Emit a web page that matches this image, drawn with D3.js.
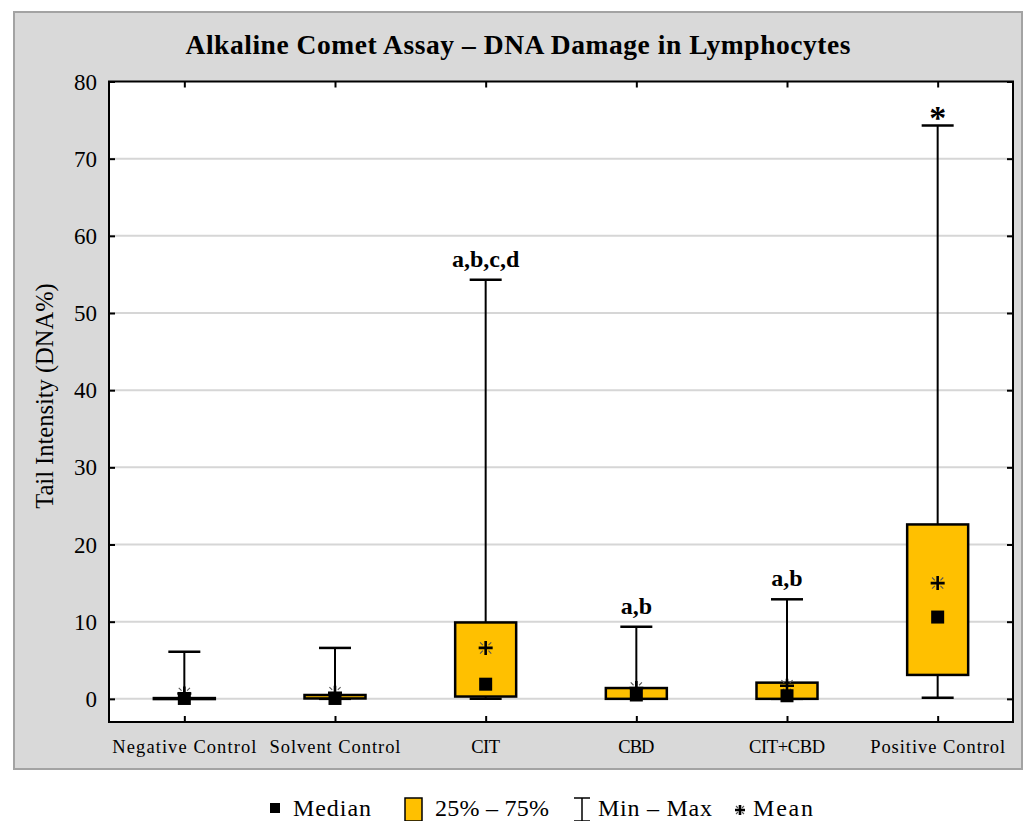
<!DOCTYPE html>
<html>
<head>
<meta charset="utf-8">
<script src="https://cdn.jsdelivr.net/npm/d3@7"></script>
<style>
  html, body { margin: 0; padding: 0; background: #fff; }
  svg { display: block; font-family: "Liberation Serif", "Times New Roman", serif; }
</style>
</head>
<body>
<svg id="chart" width="1027" height="821"></svg>
<script>
// box-plot summary per group
const categories = ["Negative Control", "Solvent Control", "CIT", "CBD", "CIT+CBD", "Positive Control"];
const minVals    = [0, 0, 0, 0, 0, 0.15];
const q1Vals     = [0, 0.05, 0.3, 0, 0, 3.1];
const medianVals = [0.05, 0.05, 1.9, 0.5, 0.4, 10.6];
const q3Vals     = [0.1, 0.5, 9.9, 1.4, 2.1, 22.6];
const maxVals    = [6.1, 6.6, 54.3, 9.35, 12.9, 74.3];
const meanVals   = [0.7, 0.8, 6.6, 1.4, 1.7, 15.0];
const letters    = ["", "", "a,b,c,d", "a,b", "a,b", "*"];
const yTicks     = [0, 10, 20, 30, 40, 50, 60, 70, 80];
const labelWidths = [144, 131, 29, 36, 76, 135];   // measured widths of the category labels

const svg = d3.select('#chart');
const plot = { left: 109, right: 1013, top: 81.5, bottom: 722 };

// grey panel
svg.append('rect').attr('x', 14).attr('y', 12).attr('width', 1008).attr('height', 757)
  .attr('fill', '#d9d9d9').attr('stroke', '#a3a3a3').attr('stroke-width', 2);

svg.append('text').attr('x', 518).attr('y', 54).attr('text-anchor', 'middle')
  .attr('font-size', 27.5).attr('font-weight', 'bold')
  .attr('textLength', 665).attr('lengthAdjust', 'spacing')
  .text('Alkaline Comet Assay \u2013 DNA Damage in Lymphocytes');

const x = d3.scalePoint().domain(categories).range([plot.left, plot.right]).padding(0.5);
const y = d3.scaleLinear().domain([-3, 80]).range([plot.bottom, plot.top]);

svg.append('rect').attr('x', plot.left).attr('y', plot.top)
  .attr('width', plot.right - plot.left).attr('height', plot.bottom - plot.top).attr('fill', '#fff');

// gridlines
svg.append('g').selectAll('line').data(yTicks.filter((t) => t < 80)).join('line')
  .attr('x1', plot.left).attr('x2', plot.right)
  .attr('y1', (d) => y(d)).attr('y2', (d) => y(d))
  .attr('stroke', '#d6d6d6').attr('stroke-width', 2);

// axes with inward ticks, labels drawn separately
const axL = svg.append('g').attr('transform', `translate(${plot.left},0)`)
  .call(d3.axisRight(y).tickValues(yTicks).tickSize(6).tickFormat(''));
const axR = svg.append('g').attr('transform', `translate(${plot.right},0)`)
  .call(d3.axisLeft(y).tickValues(yTicks).tickSize(6).tickFormat(''));
const axT = svg.append('g').attr('transform', `translate(0,${plot.top})`)
  .call(d3.axisBottom(x).tickSize(6).tickFormat(''));
const axB = svg.append('g').attr('transform', `translate(0,${plot.bottom})`)
  .call(d3.axisTop(x).tickSize(6).tickFormat(''));
[axL, axR, axT, axB].forEach((a) => {
  a.select('.domain').remove();
  a.selectAll('.tick line').attr('stroke', '#000').attr('stroke-width', 2);
});

svg.append('g').selectAll('text').data(yTicks).join('text')
  .attr('x', 97).attr('y', (d) => y(d) + 8).attr('text-anchor', 'end')
  .attr('font-size', 23).text((d) => d);

svg.append('g').selectAll('text').data(categories).join('text')
  .attr('x', (d) => x(d)).attr('y', 753).attr('text-anchor', 'middle')
  .attr('font-size', 18.5)
  .attr('textLength', (d, i) => labelWidths[i]).attr('lengthAdjust', 'spacing')
  .text((d) => d);

svg.append('text').attr('transform', 'translate(53,396) rotate(-90)')
  .attr('text-anchor', 'middle').attr('font-size', 24.5)
  .text('Tail Intensity (DNA%)');

// boxes
const rows = categories.map((c, i) => ({
  c, min: minVals[i], q1: q1Vals[i], med: medianVals[i], q3: q3Vals[i],
  max: maxVals[i], mean: meanVals[i], tag: letters[i],
}));
const boxW = 61, capW = 32, medS = 13;
const g = svg.append('g');

g.selectAll('line.whisker').data(rows).join('line').attr('class', 'whisker')
  .attr('x1', (d) => x(d.c)).attr('x2', (d) => x(d.c))
  .attr('y1', (d) => y(d.min)).attr('y2', (d) => y(d.max))
  .attr('stroke', '#000').attr('stroke-width', 2);

['min', 'max'].forEach((k) => {
  g.selectAll('line.cap-' + k).data(rows).join('line').attr('class', 'cap-' + k)
    .attr('x1', (d) => x(d.c) - capW / 2).attr('x2', (d) => x(d.c) + capW / 2)
    .attr('y1', (d) => y(d[k])).attr('y2', (d) => y(d[k]))
    .attr('stroke', '#000').attr('stroke-width', 2.5);
});

g.selectAll('rect.box').data(rows).join('rect').attr('class', 'box')
  .attr('x', (d) => x(d.c) - boxW / 2).attr('width', boxW)
  .attr('y', (d) => y(d.q3)).attr('height', (d) => Math.max(y(d.q1) - y(d.q3), 1))
  .attr('fill', '#ffc000').attr('stroke', '#000').attr('stroke-width', 2.5);

function meanMark(sel, s) {
  sel.append('path').attr('d', `M${-s},0H${s}M0,${-s}V${s}`)
    .attr('stroke', '#000').attr('stroke-width', 2.6).attr('fill', 'none');
  const a = s * 0.8, b = s * 0.4;
  sel.append('path')
    .attr('d', `M${-a},${-a}L${-b},${-b}M${a},${a}L${b},${b}M${a},${-a}L${b},${-b}M${-a},${a}L${-b},${b}`)
    .attr('stroke', '#555').attr('stroke-width', 1.1).attr('fill', 'none');
}
g.selectAll('g.mean').data(rows).join('g').attr('class', 'mean')
  .attr('transform', (d) => `translate(${x(d.c)},${y(d.mean)})`)
  .each(function () { meanMark(d3.select(this), 7); });

g.selectAll('rect.median').data(rows).join('rect').attr('class', 'median')
  .attr('x', (d) => x(d.c) - medS / 2).attr('y', (d) => y(d.med) - medS / 2)
  .attr('width', medS).attr('height', medS).attr('fill', '#000');

// significance letters
g.selectAll('text.tag').data(rows.filter((d) => d.tag)).join('text').attr('class', 'tag')
  .attr('x', (d) => x(d.c)).attr('text-anchor', 'middle')
  .attr('y', (d) => y(d.max) - (d.tag === '*' ? -4 : 13))
  .attr('font-weight', 'bold')
  .attr('font-size', (d) => (d.tag === '*' ? 34 : 24))
  .text((d) => d.tag);

// plot frame
svg.append('rect').attr('x', plot.left).attr('y', plot.top)
  .attr('width', plot.right - plot.left).attr('height', plot.bottom - plot.top)
  .attr('fill', 'none').attr('stroke', '#000').attr('stroke-width', 2);

// legend
const lg = svg.append('g');
const ly = 816;
lg.append('rect').attr('x', 270).attr('y', 803).attr('width', 10).attr('height', 10).attr('fill', '#000');
lg.append('rect').attr('x', 405).attr('y', 798).attr('width', 17).attr('height', 23)
  .attr('fill', '#ffc000').attr('stroke', '#000').attr('stroke-width', 1.5);
lg.append('path').attr('d', 'M574,798H590M582,798V821M574,821H590')
  .attr('stroke', '#000').attr('stroke-width', 1.5).attr('fill', 'none');
meanMark(lg.append('g').attr('transform', 'translate(740,810)'), 5);
const legendText = [['Median', 293, 78], ['25% \u2013 75%', 435, 114], ['Min \u2013 Max', 598, 114], ['Mean', 753, 60]];
lg.selectAll('text').data(legendText).join('text')
  .attr('x', (d) => d[1]).attr('y', ly).attr('font-size', 24)
  .attr('textLength', (d) => d[2]).attr('lengthAdjust', 'spacing')
  .text((d) => d[0]);
</script>
</body>
</html>
